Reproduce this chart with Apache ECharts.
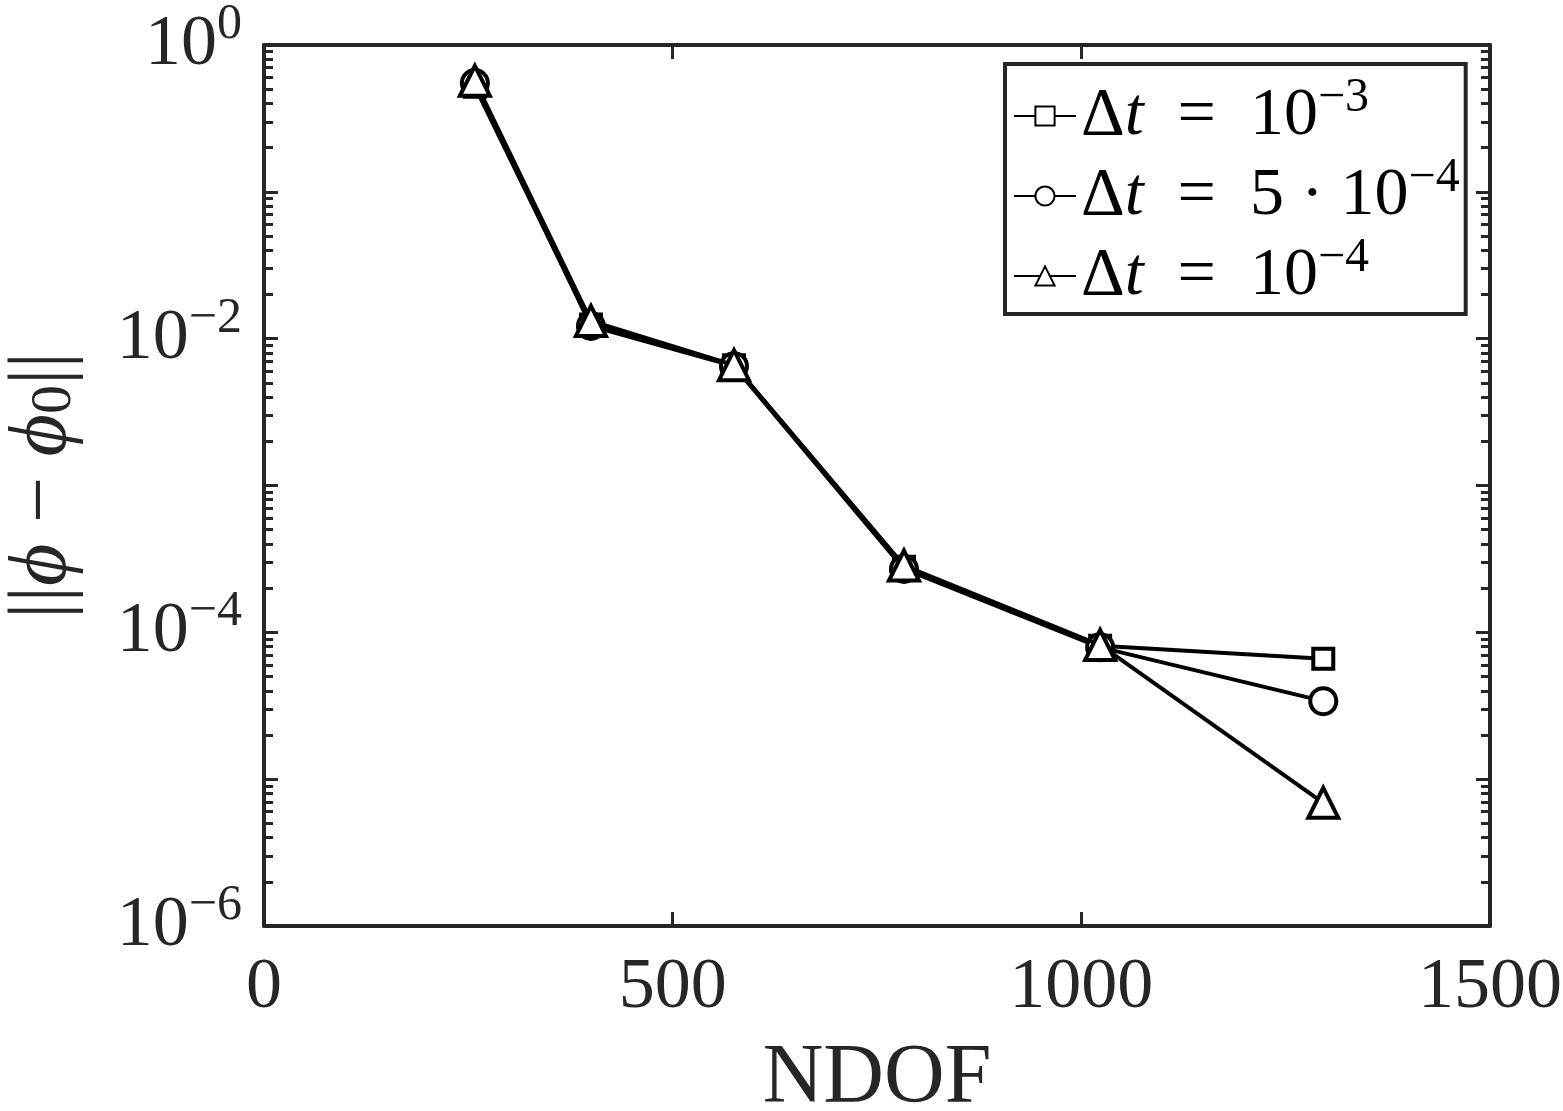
<!DOCTYPE html>
<html>
<head>
<meta charset="utf-8">
<script src="https://cdn.jsdelivr.net/npm/echarts@6/dist/echarts.min.js"></script>
<style>
  html, body { margin: 0; padding: 0; background: #fff; }
  #main { width: 1563px; height: 1111px; }
</style>
</head>
<body>
<div id="main"></div>
<script>
// NDOF values (x)
var ndof = [258, 400, 575, 783, 1023, 1296];
// error ||phi - phi0|| for each time step
var errDt1e3 = [0.52, 0.0125, 0.0066, 2.8e-4, 8.1e-5, 6.6e-5];
var errDt5e4 = [0.55, 0.0122, 0.0065, 2.7e-4, 7.9e-5, 3.4e-5];
var errDt1e4 = [0.57, 0.0132, 0.0066, 2.85e-4, 8.2e-5, 6.9e-6];
var xTicks = [0, 500, 1000, 1500];
var yTickExp = [0, -2, -4, -6];

var FONT = '"Liberation Serif", "DejaVu Serif", serif';
var AXIS_COLOR = '#262626';

function pairs(xs, ys) {
    return xs.map(function (x, i) { return [x, ys[i]]; });
}

function yLabel(v) {
    var e = Math.round(Math.log10(v));
    if (yTickExp.indexOf(e) < 0) return '';
    return '{b|10}{s|' + (e < 0 ? '\u2212' + (-e) : e) + '}';
}

var lineStyle = {color: '#000', width: 4};
var markerStyle = {color: '#fff', borderColor: '#000', borderWidth: 4};
var tickStyle = {color: AXIS_COLOR, width: 3};
// ticks point into the plot box (negative length flips them)
var majorTick = {show: true, length: -14, lineStyle: tickStyle};
var minorTick = {show: true, splitNumber: 9, length: -9, lineStyle: tickStyle};

var chart = echarts.init(document.getElementById('main'));
var option = {
    animation: false,
    backgroundColor: '#fff',
    grid: {left: 264, top: 45, right: 73, bottom: 185, containLabel: false, outerBoundsMode: 'none'},
    legend: {
        orient: 'vertical',
        left: 1005,
        top: 64,
        padding: [10, 6, 4, 8],
        borderColor: AXIS_COLOR,
        borderWidth: 4,
        backgroundColor: '#fff',
        itemWidth: 62,
        itemHeight: 24,
        itemGap: 4,
        textStyle: {
            fontFamily: FONT,
            fontSize: 68,
            color: '#000',
            rich: {
                d: {fontFamily: FONT, fontSize: 68, color: '#000'},
                t: {fontFamily: FONT, fontSize: 68, fontStyle: 'italic', color: '#000'},
                s: {fontFamily: FONT, fontSize: 48, color: '#000', padding: [0, 0, 36, 0]}
            }
        },
        formatter: function (name) {
            var m = {a: ['10', '\u22123'], b: ['5 \u00b7 10', '\u22124'], c: ['10', '\u22124']}[name];
            return '{d|\u0394}{t|t}{d|  =  ' + m[0] + '}{s|' + m[1] + '}';
        },
        data: ['a', 'b', 'c']
    },
    xAxis: [{
        type: 'value',
        min: 0,
        max: 1500,
        interval: 500,
        name: 'NDOF',
        nameLocation: 'middle',
        nameGap: 112,
        nameTextStyle: {fontFamily: FONT, fontSize: 84, color: AXIS_COLOR},
        axisLine: {show: true, onZero: false, lineStyle: {color: AXIS_COLOR, width: 4}},
        axisTick: majorTick,
        axisLabel: {fontFamily: FONT, fontSize: 72, color: AXIS_COLOR, margin: 26,
            formatter: function (v) { return xTicks.indexOf(v) >= 0 ? String(v) : ''; }},
        splitLine: {show: false}
    }, {
        type: 'value',
        position: 'top',
        min: 0,
        max: 1500,
        interval: 500,
        axisLine: {show: true, onZero: false, lineStyle: {color: AXIS_COLOR, width: 4}},
        axisTick: majorTick,
        axisLabel: {show: false},
        splitLine: {show: false}
    }],
    yAxis: [{
        type: 'log',
        logBase: 10,
        min: 1e-6,
        max: 1,
        name: '{n|||}{i|\u03d5}{n| \u2212 }{i|\u03d5}{sub|0}{n|||}',
        nameLocation: 'middle',
        nameRotate: 90,
        nameGap: 180,
        nameTextStyle: {
            color: AXIS_COLOR,
            rich: {
                n: {fontFamily: FONT, fontSize: 82, color: AXIS_COLOR},
                i: {fontFamily: FONT, fontSize: 82, fontStyle: 'italic', color: AXIS_COLOR},
                sub: {fontFamily: FONT, fontSize: 58, color: AXIS_COLOR, padding: [24, 0, 0, 0]}
            }
        },
        axisLine: {show: true, onZero: false, lineStyle: {color: AXIS_COLOR, width: 4}},
        axisTick: majorTick,
        minorTick: minorTick,
        axisLabel: {
            margin: 22,
            formatter: yLabel,
            rich: {
                b: {fontFamily: FONT, fontSize: 72, color: AXIS_COLOR},
                s: {fontFamily: FONT, fontSize: 50, color: AXIS_COLOR, padding: [0, 0, 40, 0]}
            }
        },
        splitLine: {show: false}
    }, {
        type: 'log',
        logBase: 10,
        min: 1e-6,
        max: 1,
        position: 'right',
        axisLine: {show: true, onZero: false, lineStyle: {color: AXIS_COLOR, width: 4}},
        axisTick: majorTick,
        minorTick: minorTick,
        axisLabel: {show: false},
        splitLine: {show: false}
    }],
    series: [{
        name: 'a',
        type: 'line',
        data: pairs(ndof, errDt1e3),
        symbol: 'rect',
        symbolSize: 20,
        lineStyle: lineStyle,
        itemStyle: markerStyle,
        z: 3
    }, {
        name: 'b',
        type: 'line',
        data: pairs(ndof, errDt5e4),
        symbol: 'circle',
        symbolSize: 26,
        lineStyle: lineStyle,
        itemStyle: markerStyle,
        z: 4
    }, {
        // same ranges as the main axes; bound to the mirror axes so they get ticks too
        name: 'c',
        type: 'line',
        xAxisIndex: 1,
        yAxisIndex: 1,
        data: pairs(ndof, errDt1e4),
        symbol: 'triangle',
        symbolSize: 30,
        lineStyle: lineStyle,
        itemStyle: markerStyle,
        z: 5
    }]
};
chart.setOption(option);
</script>
</body>
</html>
